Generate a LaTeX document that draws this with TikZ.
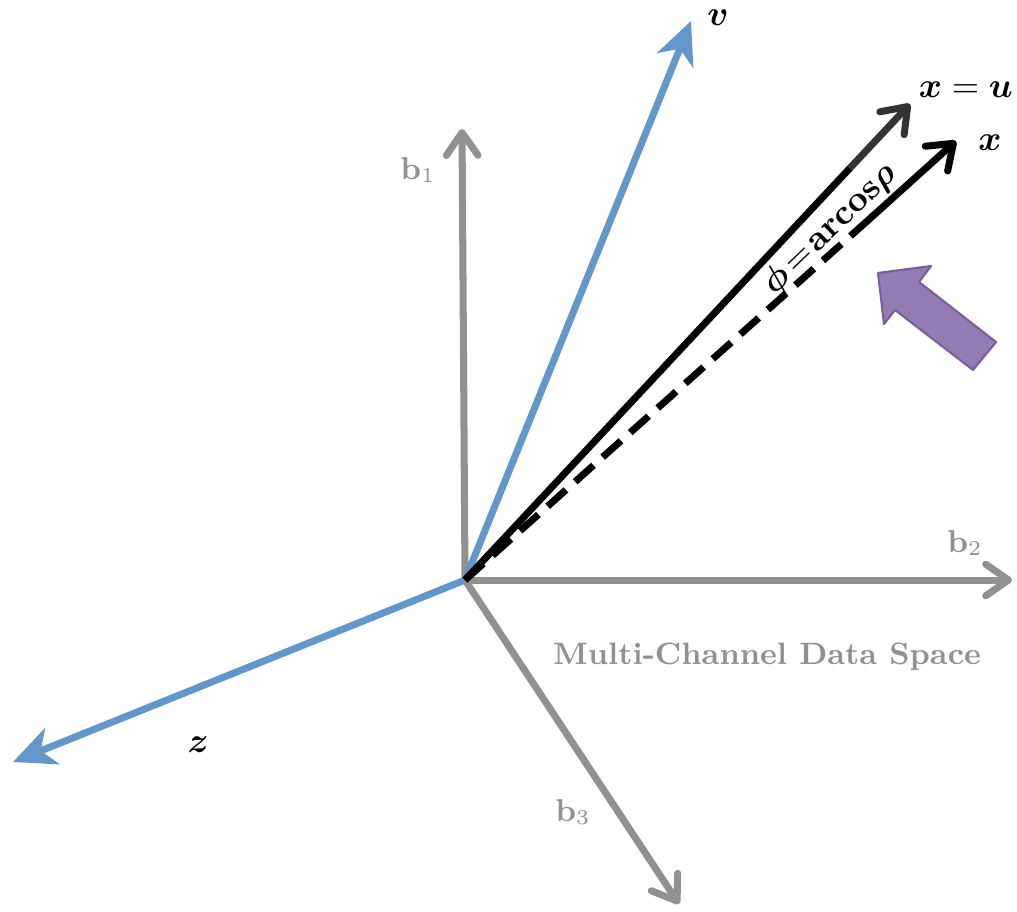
\documentclass[tikz,border=0pt]{standalone}
\usepackage{amsmath,amssymb}
\usetikzlibrary{arrows.meta}
\definecolor{axisgray}{RGB}{145,145,145}
\definecolor{vecblue}{RGB}{99,150,201}
\definecolor{hintpurple}{RGB}{148,123,178}
\definecolor{hintedge}{RGB}{120,94,156}
\tikzset{
	basis/.style={draw=axisgray, line width=2pt, line cap=round, -{Straight Barb[round, length=6.5pt, width=9pt]}},
	latent/.style={draw=vecblue, line width=2pt, -{Stealth[length=12pt, width=11pt, inset=3.5pt]}},
	signal/.style={draw=black, line width=2pt, -{Straight Barb[round, length=6.5pt, width=9.5pt]}},
	basislabel/.style={text=axisgray, font=\fontsize{9}{11}\selectfont},
}
\begin{document}
\begin{tikzpicture}[font=\fontsize{10}{12}\selectfont]
	\useasboundingbox (0,0) rectangle (10.17,9.11);
	% origin and vector ends
	\coordinate (O) at (4.65,3.31);
	\coordinate (b1) at (4.62,7.82);
	\coordinate (b2) at (10.12,3.31);
	\coordinate (b3) at (6.79,0.07);
	\coordinate (v) at (6.91,8.90);
	\coordinate (z) at (0.13,1.49);
	\coordinate (xu) at (9.10,8.07);
	\coordinate (xumid) at (8.50,7.43);
	\coordinate (x) at (9.56,7.70);
	\coordinate (xmid) at (8.65,6.88);
	% basis axes
	\draw[basis] (O) -- (b1);
	\draw[basis] (O) -- (b2);
	\draw[basis] (O) -- (b3);
	\node[basislabel] (b1lbl) at (4.18,7.41) {$\mathbf{b}_1$};
	\node[basislabel] (b2lbl) at (9.65,3.68) {$\mathbf{b}_2$};
	\node[basislabel] (b3lbl) at (5.73,0.99) {$\mathbf{b}_3$};
	\node[text=axisgray, font=\fontsize{8.8}{11}\selectfont\bfseries] (space) at (7.67,2.54) {Multi-Channel Data Space};
	% blue vectors
	\draw[latent] (O) -- (v);
	\draw[latent] (O) -- (z);
	\node (vlbl) at (7.18,8.93) {$\boldsymbol{v}$};
	\node (zlbl) at (1.98,1.66) {$\boldsymbol{z}$};
	% x and x = u
	\draw[line width=2pt, dash pattern=on 7pt off 3.5pt] (O) -- (xmid);
	\draw[signal] (xmid) -- (x);
	\draw[line width=2pt] (O) -- (xumid);
	\draw[signal, draw=black!80] (xumid) -- (xu);
	\node[anchor=east, inner sep=1pt] (xulbl) at (10.17,8.21) {$\boldsymbol{x} = \boldsymbol{u}$};
	\node (xlbl) at (9.90,7.68) {$\boldsymbol{x}$};
	\node[rotate=44] (phi) at (8.30,6.82) {$\boldsymbol{\phi}\!=\!\mathbf{arcos}\boldsymbol{\rho}$};
	% purple hint arrow
	\draw[fill=hintpurple, draw=hintedge, line width=0.6pt, line join=round]
		(8.78,6.38) -- (9.31,6.45) -- (9.19,6.29) -- (9.96,5.69) -- (9.73,5.41) -- (8.95,6.01) -- (8.84,5.87) -- cycle;
\end{tikzpicture}
\end{document}
